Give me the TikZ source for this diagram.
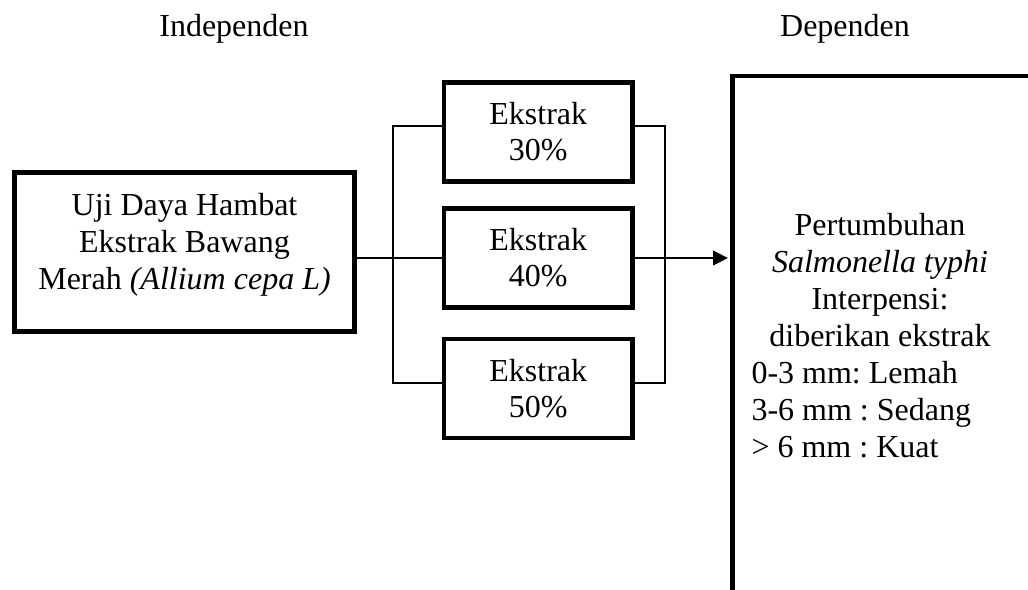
\documentclass[tikz,border=0pt]{standalone}
\usepackage{fontspec}
\setmainfont{Liberation Serif}
\usetikzlibrary{arrows.meta}
\frenchspacing

\begin{document}
\begin{tikzpicture}[x=0.375pt,y=-0.375pt]
  \tikzstyle{kotak}=[draw,line width=1.7pt,inner sep=0pt,align=center,font=\fontsize{12pt}{13.5pt}\selectfont]
  \tikzstyle{teks}=[inner sep=0pt,font=\fontsize{12pt}{13.9pt}\selectfont]
  \tikzstyle{garis}=[line width=0.6pt]

  \useasboundingbox (0,0) rectangle (1028,589);
  \clip (0,0) rectangle (1028,589);

  \node[teks,anchor=base] (indep) at (234,37) {Independen};
  \node[teks,anchor=base] (dep) at (845,37) {Dependen};

  \node[kotak,minimum width=127.5pt,minimum height=59.8pt] (uji) at (184.5,252) {};
  \node[teks,align=center,anchor=north] (ujiteks) at (184.5,193)
    {Uji Daya Hambat\\Ekstrak Bawang\\Merah \textit{(Allium cepa L)}};

  \foreach \name/\y/\pct in {e30/132/30, e40/258/40, e50/388.5/50}
    \node[kotak,minimum width=70.7pt,minimum height=37.1pt] (\name) at (538.25,\y) {Ekstrak\\\pct\%};

  \node[kotak,minimum width=150pt,minimum height=225pt] (tumbuh) at (932.5,376) {};
  \node[teks,align=center,anchor=north] (tumbuhteks) at (880,213)
    {Pertumbuhan\\\textit{Salmonella typhi}\\Interpensi:\\diberikan ekstrak};
  \node[teks,align=left,anchor=north west] (kriteria) at (751,361)
    {0-3 mm: Lemah\\3-6 mm : Sedang\\> 6 mm : Kuat};

  \draw[garis] (e40.west -| uji.east) -- (e40.west);
  \draw[garis] ([yshift=2.2pt]e30.west) -- ++(-49,0) |- ([yshift=2pt]e50.west);
  \draw[garis] ([yshift=2.2pt]e30.east) -- ++(30.5,0) |- ([yshift=2pt]e50.east);
  \draw[garis,-{Triangle[length=5.6pt,width=5.5pt]},shorten >=0.85pt] (e40.east) -- (e40.east -| tumbuh.west);
\end{tikzpicture}
\end{document}
